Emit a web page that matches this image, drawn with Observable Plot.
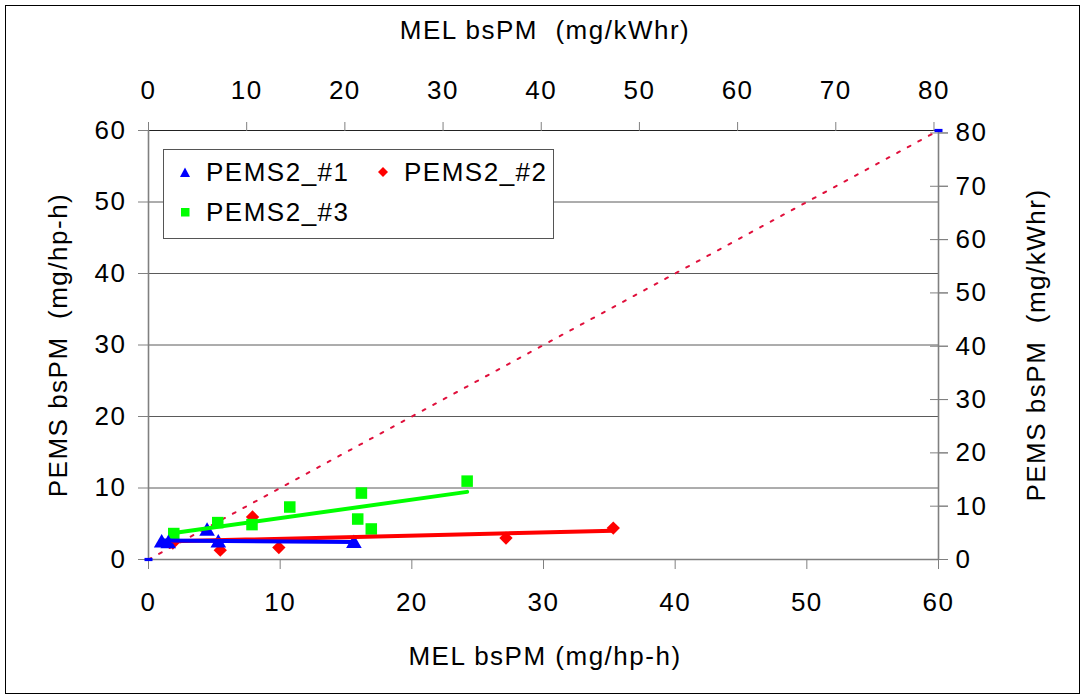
<!DOCTYPE html>
<html><head><meta charset="utf-8">
<script src="https://cdn.jsdelivr.net/npm/d3@7"></script>
<script src="https://cdn.jsdelivr.net/npm/@observablehq/plot@0.6"></script>
<style>
body{margin:0;background:#fff;font-family:"Liberation Sans",Arial,sans-serif;}
#wrap{position:relative;width:1084px;height:698px;overflow:hidden;}
#frame{position:absolute;left:5px;top:5px;width:1073px;height:687px;border:1px solid #000;pointer-events:none;}
#legend{position:absolute;left:163px;top:149px;width:389px;height:88px;border:1px solid #555;background:#fff;font-size:26px;letter-spacing:1.5px;color:#000;}
.item{position:absolute;display:flex;align-items:center;white-space:nowrap;line-height:30px;}
.item svg{margin-right:16px;}
.title{position:absolute;font-size:26px;letter-spacing:1.5px;color:#000;white-space:nowrap;}
#chart svg text{font-size:26px !important;letter-spacing:1.5px;}
</style></head><body><div id="wrap"><div id="chart"></div><div id="frame"></div><div id="legend"></div>
<div class="title" id="tTop" style="left:545px;top:30px;transform:translate(-50%,-50%);">MEL bsPM&nbsp;&nbsp;(mg/kWhr)</div>
<div class="title" id="tBottom" style="left:545px;top:656px;transform:translate(-50%,-50%);">MEL bsPM (mg/hp-h)</div>
<div class="title" id="tLeft" style="left:58px;top:345px;transform:translate(-50%,-50%) rotate(-90deg);">PEMS bsPM&nbsp;&nbsp;(mg/hp-h)</div>
<div class="title" id="tRight" style="left:1036px;top:345px;transform:translate(-50%,-50%) rotate(-90deg);">PEMS bsPM&nbsp;&nbsp;(mg/kWhr)</div>
</div>
<script>
const CONV = 1 / 0.7457; // mg/hp-h -> mg/kWhr
const seriesNames = ["PEMS2_#1", "PEMS2_#2", "PEMS2_#3"];
const seriesColors = ["#0000ff", "#ff0000", "#00ff00"];
const pems1X = [1.0, 1.5, 4.45, 5.3, 15.6];
const pems1Y = [2.3, 2.2, 3.95, 2.3, 2.23];
const pems2X = [1.85, 5.45, 7.9, 9.9, 27.15, 35.3];
const pems2Y = [2.3, 1.3, 5.95, 1.67, 3.0, 4.4];
const pems3X = [1.92, 5.26, 7.86, 10.73, 15.89, 16.17, 16.92, 24.2];
const pems3Y = [3.63, 5.16, 4.88, 7.34, 5.66, 9.29, 4.27, 10.96];
const refX = [0, 60];
const refY = [0, 60];
const hpTicks = [0, 10, 20, 30, 40, 50, 60];
const kwTicks = [0, 10, 20, 30, 40, 50, 60, 70, 80];

const toRows = (xs, ys) => xs.map((x, i) => ({x, y: ys[i]}));
const s1 = toRows(pems1X, pems1Y);
const s2 = toRows(pems2X, pems2Y);
const s3 = toRows(pems3X, pems3Y);
const ref = toRows(refX, refY);

const dash = {draw(ctx, size) { const r = Math.sqrt(size / Math.PI); ctx.rect(-r, -r * 0.4, 2 * r, r * 0.8); }};
const kwPos = kwTicks.map(v => v / CONV);
const kwFmt = d => String(Math.round(d * CONV));
const none = () => "";

const plot = Plot.plot({
  width: 1084, height: 698,
  marginLeft: 148, marginRight: 146, marginTop: 130, marginBottom: 139,
  x: {domain: [0, 60]},
  y: {domain: [0, 60]},
  style: {fontFamily: "'Liberation Sans', Arial, sans-serif", fontSize: "26px", color: "#000", background: "transparent"},
  marks: [
    Plot.gridY(hpTicks.filter(d => d > 0 && d < 60), {stroke: "#5a5a5a", strokeOpacity: 1, strokeWidth: 1}),
    Plot.ruleY([60], {stroke: "#222", strokeWidth: 1.2}),
    Plot.ruleX([0], {stroke: "#808080", strokeWidth: 1.6}),
    Plot.ruleX([60], {stroke: "#808080", strokeWidth: 1.6}),
    Plot.ruleY([0], {stroke: "#808080", strokeWidth: 1.6}),
    Plot.axisX(hpTicks, {anchor: "bottom", tickSize: 10, tickPadding: 23, stroke: "#808080", label: null}),
    Plot.axisX(kwPos, {anchor: "top", tickSize: 9, tickPadding: 23, tickFormat: kwFmt, stroke: "#808080", label: null}),
    Plot.axisY(hpTicks, {anchor: "left", tickSize: 10, tickPadding: 12, stroke: "#808080", label: null}),
    Plot.axisY(kwPos, {anchor: "right", tickSize: 18, dx: -9, tickFormat: none, stroke: "#808080", label: null}),
    Plot.axisY(kwPos, {anchor: "right", tickSize: 9, tickPadding: 8, tickFormat: kwFmt, stroke: "#808080", label: null}),
    Plot.line(ref, {x: "x", y: "y", stroke: "#e0103c", strokeWidth: 2, strokeDasharray: "3,9"}),
    Plot.dot(ref, {x: "x", y: "y", symbol: dash, r: 4, fill: "#0000ff", stroke: "none"}),
    Plot.dot(s2, {x: "x", y: "y", symbol: "diamond2", r: 6, fill: seriesColors[1], stroke: "none"}),
    Plot.dot(s3, {x: "x", y: "y", symbol: "square", r: 6.5, fill: seriesColors[2], stroke: "none"}),
    Plot.dot(s1, {x: "x", y: "y", symbol: "triangle", r: 5.8, fill: seriesColors[0], stroke: "none"}),
    Plot.linearRegressionY(s2, {x: "x", y: "y", stroke: seriesColors[1], strokeWidth: 4, ci: 0}),
    Plot.linearRegressionY(s3, {x: "x", y: "y", stroke: seriesColors[2], strokeWidth: 4, ci: 0}),
    Plot.linearRegressionY(s1, {x: "x", y: "y", stroke: seriesColors[0], strokeWidth: 4, ci: 0})
  ]
});
document.getElementById("chart").appendChild(plot);

// legend
const legend = document.getElementById("legend");
const symShapes = [
  '<polygon points="5,0.5 10,10 0,10" />',
  '<polygon points="5,0 10,5 5,10 0,5" />',
  '<rect x="1" y="1" width="8.5" height="8.5" />'
];
const legPos = [[16, 7], [214, 7], [16, 47]];
seriesNames.forEach((name, i) => {
  const d = document.createElement("div");
  d.className = "item";
  d.style.left = legPos[i][0] + "px";
  d.style.top = legPos[i][1] + "px";
  d.innerHTML = `<svg width="10" height="11" viewBox="0 0 10 11"><g fill="${seriesColors[i]}">${symShapes[i]}</g></svg><span>${name}</span>`;
  legend.appendChild(d);
});
</script>
</body></html>
